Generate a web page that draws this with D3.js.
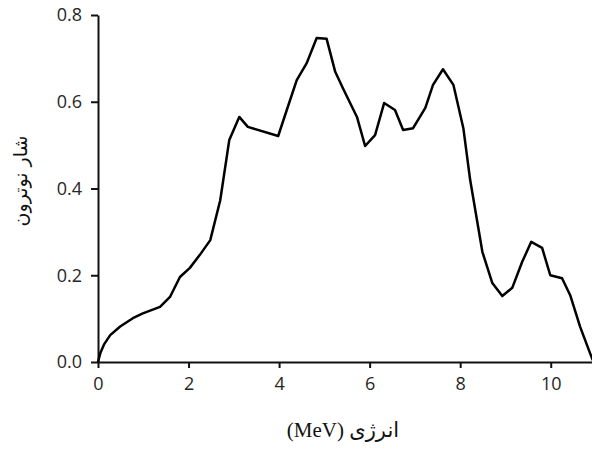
<!DOCTYPE html>
<html>
<head>
<meta charset="utf-8">
<script src="https://cdn.jsdelivr.net/npm/d3@7"></script>
<style>
  body { margin: 0; background: #fff; }
  svg { display: block; }
</style>
</head>
<body>
<div id="canva"></div>
<script>
// energy (MeV) and neutron flux
const energy = [0, 0.05, 0.13, 0.27, 0.49, 0.77, 0.99, 1.37, 1.59, 1.81, 2.03, 2.25, 2.48, 2.70, 2.90,
  3.12, 3.31, 3.98, 4.17, 4.39, 4.61, 4.83, 5.05, 5.24, 5.41, 5.72, 5.90, 6.12, 6.32, 6.56,
  6.74, 6.96, 7.23, 7.40, 7.62, 7.85, 8.07, 8.22, 8.49, 8.71, 8.93, 9.15, 9.37, 9.57, 9.81,
  9.99, 10.25, 10.43, 10.65, 10.87, 10.93];
const flux = [0, 0.02, 0.04, 0.062, 0.082, 0.101, 0.112, 0.127, 0.150, 0.196, 0.217, 0.247, 0.281, 0.373, 0.512,
  0.565, 0.542, 0.521, 0.581, 0.650, 0.689, 0.747, 0.745, 0.669, 0.631, 0.565, 0.498, 0.523, 0.597, 0.581,
  0.535, 0.539, 0.586, 0.639, 0.675, 0.639, 0.539, 0.42, 0.254, 0.182, 0.152, 0.171, 0.231, 0.277, 0.263,
  0.200, 0.193, 0.154, 0.081, 0.02, 0.004];
const xTicks = [0, 2, 4, 6, 8, 10];
const yTicks = [0, 0.2, 0.4, 0.6, 0.8];
const xTitle = "انرژی (MeV)";
const yTitle = "شار نوترون";

const width = 592, height = 449;

const svg = d3.select("#canva").append("svg")
  .attr("width", width)
  .attr("height", height);

const x = d3.scaleLinear().domain([0, 11]).range([98, 596]);
const y = d3.scaleLinear().domain([0, 0.8]).range([362, 15]);

const xAxis = svg.append("g")
  .attr("transform", `translate(0,${y(0)})`)
  .call(d3.axisBottom(x).tickValues(xTicks).tickSize(6).tickSizeOuter(0).tickPadding(6).tickFormat(d3.format("d")));

const yAxis = svg.append("g")
  .attr("transform", `translate(${x(0)},0)`)
  .call(d3.axisLeft(y).tickValues(yTicks).tickSize(7).tickSizeOuter(0).tickPadding(9).tickFormat(d3.format(".1f")));

[xAxis, yAxis].forEach((g) => {
  g.select(".domain").attr("stroke", "#111").attr("stroke-width", 2);
  g.selectAll(".tick line").attr("stroke", "#111").attr("stroke-width", 2);
  g.selectAll(".tick text")
    .attr("fill", "#262626")
    .style("font-family", "'Open Sans', sans-serif")
    .style("font-size", "18px");
});
xAxis.selectAll(".tick text").attr("dy", "0.9em");

const line = d3.line()
  .x((d, i) => x(energy[i]))
  .y((d) => y(d));

svg.append("path")
  .datum(flux)
  .attr("fill", "none")
  .attr("stroke", "#000")
  .attr("stroke-width", 2.5)
  .attr("stroke-linejoin", "round")
  .attr("d", line);

svg.append("text")
  .attr("x", 343)
  .attr("y", 437)
  .attr("text-anchor", "middle")
  .attr("direction", "rtl")
  .style("direction", "rtl")
  .style("font-family", "'Liberation Serif', 'DejaVu Sans', serif")
  .style("font-size", "21px")
  .attr("fill", "#111")
  .text(xTitle);

svg.append("text")
  .attr("transform", "translate(27,181) rotate(-90)")
  .attr("text-anchor", "middle")
  .attr("direction", "rtl")
  .style("direction", "rtl")
  .style("font-family", "'DejaVu Sans', sans-serif")
  .style("font-size", "19px")
  .attr("fill", "#111")
  .text(yTitle);
</script>
</body>
</html>
